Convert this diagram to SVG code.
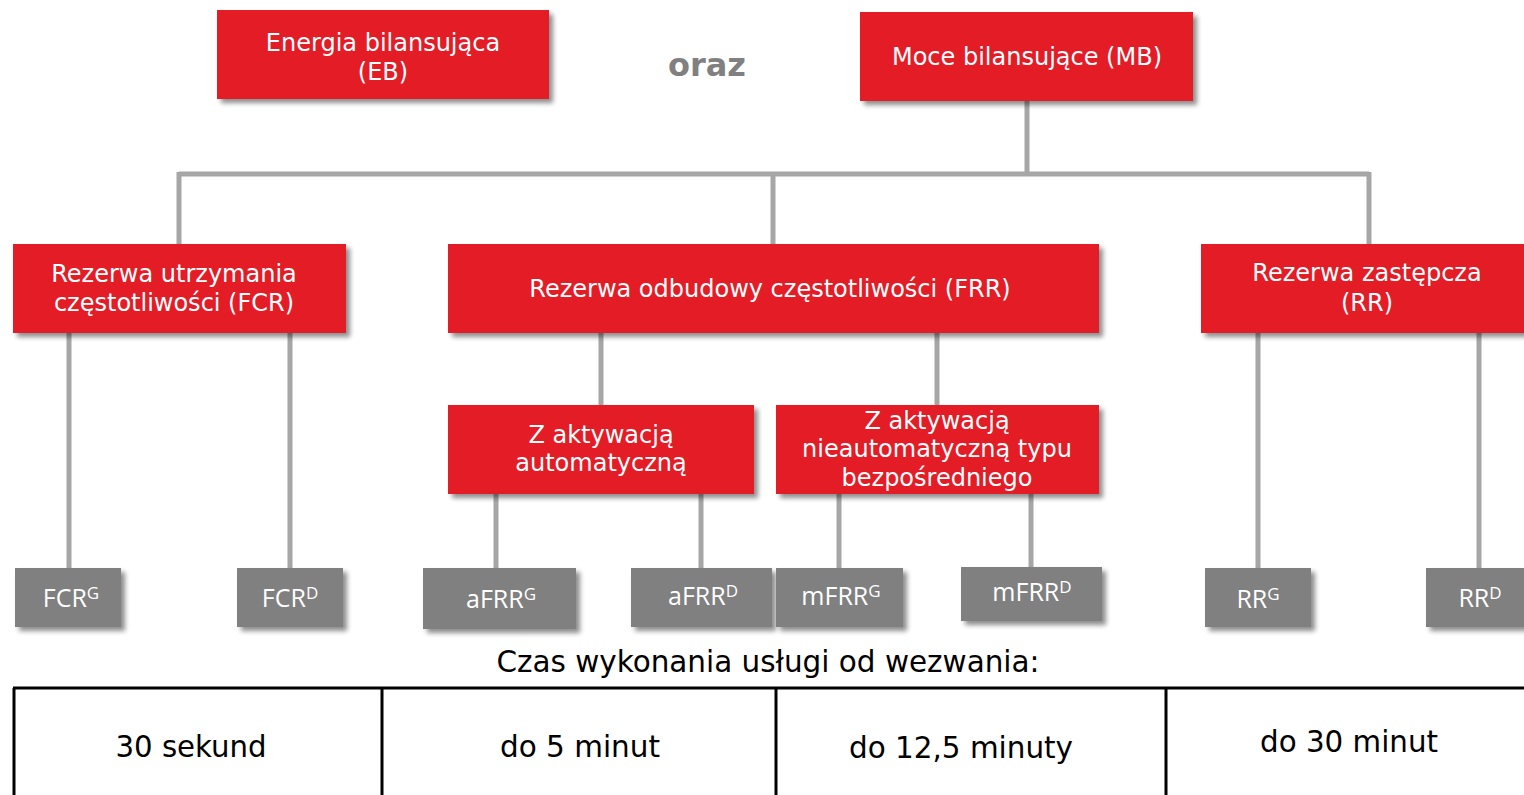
<svg xmlns="http://www.w3.org/2000/svg" width="1524" height="795" viewBox="0 0 1524 795">
<defs>
<filter id="sh" x="-5%" y="-10%" width="115%" height="130%">
<feGaussianBlur in="SourceAlpha" stdDeviation="2.5"/>
<feOffset dx="4" dy="4" result="b"/>
<feComponentTransfer><feFuncA type="linear" slope="0.45"/></feComponentTransfer>
<feMerge><feMergeNode/><feMergeNode in="SourceGraphic"/></feMerge>
</filter>
<style>
.red{fill:#e31e26;filter:url(#sh);}
.gray{fill:#808080;filter:url(#sh);}
.rt{font-family:"DejaVu Sans",Verdana,sans-serif;font-size:24px;fill:#fff;text-anchor:middle;}
.gt{font-family:"Open Sans",sans-serif;font-size:25px;fill:#fff;text-anchor:middle;}
.sup{font-size:17px;}
.ln{stroke:#a6a6a6;stroke-width:5;fill:none;}
.tb{stroke:#000;stroke-width:3;fill:none;}
.tt{font-family:"DejaVu Sans Condensed","DejaVu Sans",sans-serif;font-size:31px;fill:#000;text-anchor:middle;}
</style>
</defs>
<rect width="1524" height="795" fill="#fff"/>
<g id="connectors">
<path class="ln" d="M1027 101V174M179 174H1369M179 172V244M773 172V244M1369 172V244"/>
<path class="ln" d="M69 333V568M290 333V568M601 333V405M937 333V405M1258 333V568M1479 333V568"/>
<path class="ln" d="M496 494V568M701 494V568M839 494V568M1031 494V567"/>
</g>
<g id="eb"><rect class="red" x="217" y="10" width="332" height="89"/><text class="rt" x="383" y="51">Energia bilansująca</text><text class="rt" x="383" y="80">(EB)</text></g>
<g id="oraz"><text x="707" y="76" font-family="DejaVu Sans,Verdana,sans-serif" font-weight="bold" font-size="32" fill="#808080" text-anchor="middle">oraz</text></g>
<g id="mb"><rect class="red" x="860" y="12" width="333" height="89"/><text class="rt" x="1027" y="65">Moce bilansujące (MB)</text></g>
<g id="fcr"><rect class="red" x="13" y="244" width="333" height="89"/><text class="rt" x="174" y="282">Rezerwa utrzymania</text><text class="rt" x="174" y="311">częstotliwości (FCR)</text></g>
<g id="frr"><rect class="red" x="448" y="244" width="651" height="89"/><text class="rt" x="770" y="297">Rezerwa odbudowy częstotliwości (FRR)</text></g>
<g id="rr"><rect class="red" x="1201" y="244" width="330" height="89"/><text class="rt" x="1367" y="281">Rezerwa zastępcza</text><text class="rt" x="1367" y="311">(RR)</text></g>
<g id="afrr"><rect class="red" x="448" y="405" width="306" height="89"/><text class="rt" x="601" y="443">Z aktywacją</text><text class="rt" x="601" y="471">automatyczną</text></g>
<g id="mfrr"><rect class="red" x="776" y="405" width="323" height="89"/><text class="rt" x="937" y="429">Z aktywacją</text><text class="rt" x="937" y="457">nieautomatyczną typu</text><text class="rt" x="937" y="486">bezpośredniego</text></g>
<g id="fcrg"><rect class="gray" x="15" y="568" width="106" height="59"/><text class="gt" x="71" y="607">FCR<tspan class="sup" dy="-8">G</tspan></text></g>
<g id="fcrd"><rect class="gray" x="237" y="568" width="106" height="59"/><text class="gt" x="290" y="607">FCR<tspan class="sup" dy="-8">D</tspan></text></g>
<g id="afrrg"><rect class="gray" x="423" y="568" width="153" height="61"/><text class="gt" x="501" y="608">aFRR<tspan class="sup" dy="-8">G</tspan></text></g>
<g id="afrrd"><rect class="gray" x="631" y="568" width="141" height="59"/><text class="gt" x="703" y="605">aFRR<tspan class="sup" dy="-8">D</tspan></text></g>
<g id="mfrrg"><rect class="gray" x="776" y="568" width="127" height="59"/><text class="gt" x="841" y="605">mFRR<tspan class="sup" dy="-8">G</tspan></text></g>
<g id="mfrrd"><rect class="gray" x="961" y="567" width="141" height="54"/><text class="gt" x="1032" y="601">mFRR<tspan class="sup" dy="-8">D</tspan></text></g>
<g id="rrg"><rect class="gray" x="1205" y="568" width="106" height="59"/><text class="gt" x="1258" y="608">RR<tspan class="sup" dy="-8">G</tspan></text></g>
<g id="rrd"><rect class="gray" x="1426" y="568" width="106" height="59"/><text class="gt" x="1480" y="607">RR<tspan class="sup" dy="-8">D</tspan></text></g>
<g id="table">
<text class="tt" x="768" y="672" font-size="29" textLength="543" lengthAdjust="spacingAndGlyphs">Czas wykonania usługi od wezwania:</text>
<path class="tb" d="M13 688H1524M14 688V795M382 688V795M776 688V795M1166 688V795"/>
<text class="tt" x="191" y="757" textLength="151" lengthAdjust="spacingAndGlyphs">30 sekund</text>
<text class="tt" x="580" y="757" textLength="160" lengthAdjust="spacingAndGlyphs">do 5 minut</text>
<text class="tt" x="961" y="758" textLength="224" lengthAdjust="spacingAndGlyphs">do 12,5 minuty</text>
<text class="tt" x="1349" y="752" textLength="178" lengthAdjust="spacingAndGlyphs">do 30 minut</text>
</g>
</svg>
